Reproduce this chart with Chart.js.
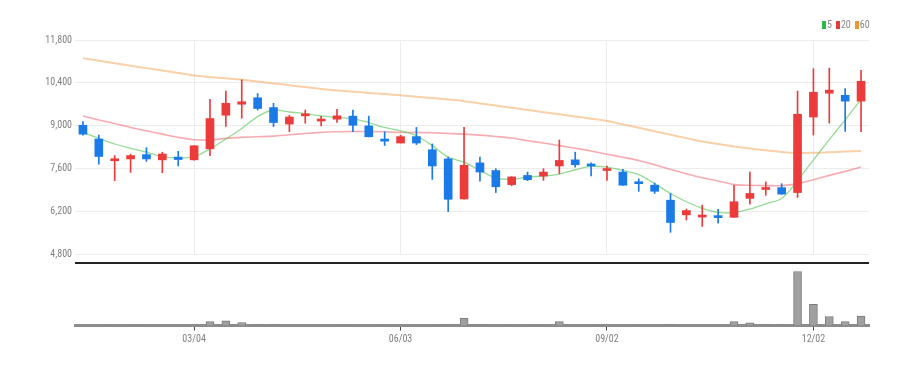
<!DOCTYPE html>
<html lang="ko">
<head>
    <meta charset="UTF-8">
    <title>주간 캔들 차트</title>
    <script src="https://cdn.jsdelivr.net/npm/chart.js"></script>
    <style>
        body {
            margin: 0;
            background: #fff;
            font-family: 'Roboto Condensed', sans-serif;
        }
        #wrap {
            position: relative;
            width: 919px;
            height: 366px;
        }
        #priceChart { position: absolute; left: 0; top: 0; }
        #volChart { position: absolute; left: 0; top: 265px; }
        .divider {
            position: absolute;
            left: 75px;
            top: 262px;
            width: 794px;
            height: 2px;
            background: #222;
        }
        #legend {
            position: absolute;
            left: 822px;
            top: 19px;
            font-size: 10px;
            line-height: 12px;
            color: #888;
            white-space: nowrap;
        }
        #legend .box {
            display: inline-block;
            width: 4px;
            height: 8px;
            margin-right: 1px;
            vertical-align: -1px;
        }
        #legend .item { margin-right: 4px; }
    </style>
</head>
<body>
<div id="wrap">
    <canvas id="priceChart" width="919" height="263"></canvas>
    <div class="divider"></div>
    <canvas id="volChart" width="919" height="101"></canvas>
    <div id="legend">
        <span class="item"><span class="box" style="background:#2db84a"></span>5</span><span class="item"><span class="box" style="background:#e8393c"></span>20</span><span class="item"><span class="box" style="background:#f0982e"></span>60</span>
    </div>
</div>

<script>
    // weekly candles
    const dates = ['01/15', '01/22', '01/29', '02/05', '02/12', '02/19', '02/26', '03/04', '03/11', '03/18',
        '03/25', '04/01', '04/08', '04/15', '04/22', '04/29', '05/06', '05/13', '05/20', '05/27',
        '06/03', '06/10', '06/17', '06/24', '07/01', '07/08', '07/15', '07/22', '07/29', '08/05',
        '08/12', '08/19', '08/26', '09/02', '09/09', '09/16', '09/23', '09/30', '10/07', '10/14',
        '10/21', '10/28', '11/04', '11/11', '11/18', '11/25', '12/02', '12/09', '12/16', '12/23'];
    const tickLabels = ['03/04', '06/03', '09/02', '12/02'];
    const priceTicks = [4800, 6200, 7600, 9000, 10400, 11800];

    const opens = [9010, 8560, 7850, 7910, 8050, 7880, 7970, 7880, 8240, 9340,
        9700, 9910, 9590, 9050, 9320, 9150, 9210, 9310, 8990, 8560,
        8430, 8640, 8210, 7910, 6600, 7780, 7530, 7070, 7370, 7350,
        7680, 7880, 7740, 7530, 7480, 7160, 7050, 6560, 6080, 6010,
        6040, 6000, 6620, 6910, 6970, 6810, 9280, 10060, 9990, 9800];
    const highs = [9130, 8690, 8020, 8065, 8280, 8130, 8160, 8350, 9860, 10130,
        10500, 10050, 9730, 9340, 9510, 9300, 9530, 9510, 9310, 8800,
        8690, 8940, 8400, 7970, 8940, 7970, 7590, 7330, 7480, 7590,
        8530, 8130, 7780, 7675, 7570, 7260, 7120, 6780, 6270, 6400,
        6260, 7050, 7480, 7160, 7100, 10130, 10860, 10880, 10210, 10810];
    const lows = [8690, 7740, 7200, 7470, 7830, 7460, 7680, 7870, 8020, 8970,
        9240, 9510, 8970, 8800, 9080, 8990, 9100, 8800, 8630, 8350,
        8430, 8380, 7240, 6190, 6590, 7180, 6810, 7030, 7200, 7210,
        7430, 7640, 7350, 7210, 7040, 6850, 6780, 5510, 5910, 5700,
        5810, 6000, 6430, 6720, 6750, 6650, 8690, 9080, 8810, 8800];
    const closes = [8720, 7990, 7910, 8020, 7910, 8070, 7890, 8340, 9230, 9730,
        9780, 9560, 9100, 9280, 9360, 9190, 9320, 9010, 8635, 8490,
        8640, 8430, 7680, 6590, 7700, 7480, 7000, 7320, 7230, 7480,
        7860, 7720, 7680, 7590, 7050, 7100, 6850, 5830, 6220, 6070,
        5990, 6510, 6780, 6960, 6760, 9370, 10090, 10160, 9800, 10450];

    const ma5 = [8777, 8583, 8398, 8258, 8130, 7987, 7944, 7987, 8236, 8560,
        8907, 9295, 9510, 9445, 9393, 9315, 9263, 9230, 9100, 8939,
        8829, 8667, 8345, 7967, 7805, 7534, 7286, 7243, 7318, 7351,
        7416, 7556, 7664, 7643, 7534, 7394, 7102, 6778, 6509, 6292,
        6162, 6152, 6270, 6440, 6616, 7200, 7880, 8540, 9190, 9850];
    const ma20 = [9315, 9186, 9068, 8939, 8829, 8722, 8614, 8538, 8528, 8583,
        8614, 8635, 8657, 8700, 8743, 8777, 8797, 8808, 8808, 8797,
        8777, 8777, 8764, 8743, 8722, 8690, 8646, 8592, 8506, 8430,
        8345, 8258, 8171, 8064, 7967, 7858, 7718, 7567, 7426, 7296,
        7189, 7070, 7048, 7037, 7037, 7102, 7232, 7372, 7502, 7643];
    const ma60 = [11207, 11120, 11040, 10960, 10880, 10800, 10720, 10640, 10590, 10545,
        10500, 10440, 10380, 10320, 10260, 10200, 10150, 10110, 10070, 10030,
        9990, 9945, 9900, 9850, 9800, 9726, 9655, 9583, 9512, 9440,
        9369, 9297, 9226, 9154, 9040, 8927, 8814, 8700, 8590, 8480,
        8400, 8320, 8250, 8190, 8140, 8107, 8110, 8130, 8150, 8170];

    const volumes = [5, 5, 5, 5, 5, 5, 5, 5, 80, 95,
        60, 20, 20, 5, 5, 5, 5, 5, 5, 5,
        5, 5, 5, 20, 150, 20, 5, 5, 5, 5,
        80, 5, 5, 5, 5, 5, 5, 20, 5, 5,
        5, 80, 55, 20, 20, 1080, 425, 180, 80, 190];

    const UP = '#eb3b3b';
    const DOWN = '#1a7ae8';
    const candleColors = closes.map((c, i) => c >= opens[i] ? UP : DOWN);

    Chart.defaults.font.family = "'Roboto Condensed', sans-serif";
    Chart.defaults.font.size = 10;
    Chart.defaults.color = '#808080';

    const showTick = i => tickLabels.includes(dates[i]);

    new Chart(document.getElementById('priceChart'), {
        data: {
            labels: dates,
            datasets: [
                {
                    type: 'bar',
                    data: closes.map((c, i) => [opens[i], c]),
                    backgroundColor: candleColors,
                    barThickness: 8,
                    minBarLength: 2,
                    grouped: false,
                    order: 0
                },
                {
                    type: 'bar',
                    data: highs.map((h, i) => [lows[i], h]),
                    backgroundColor: candleColors,
                    barThickness: 1,
                    grouped: false,
                    order: 1
                },
                {
                    type: 'line',
                    data: ma5,
                    borderColor: 'rgba(90, 200, 90, 0.65)',
                    borderWidth: 1.3,
                    pointRadius: 0,
                    tension: 0.3,
                    order: 2
                },
                {
                    type: 'line',
                    data: ma20,
                    borderColor: 'rgba(238, 90, 100, 0.5)',
                    borderWidth: 1.6,
                    pointRadius: 0,
                    tension: 0.3,
                    order: 3
                },
                {
                    type: 'line',
                    data: ma60,
                    borderColor: 'rgba(242, 150, 60, 0.45)',
                    borderWidth: 2,
                    pointRadius: 0,
                    tension: 0.3,
                    order: 4
                }
            ]
        },
        options: {
            responsive: false,
            animation: false,
            layout: { padding: { left: 0, right: 50, top: 40, bottom: 7 } },
            plugins: { legend: { display: false }, tooltip: { enabled: false } },
            scales: {
                x: {
                    type: 'category',
                    offset: true,
                    grid: {
                        offset: false,
                        drawTicks: false,
                        color: c => showTick(c.index) ? '#ececec' : 'rgba(0,0,0,0)'
                    },
                    border: { display: false },
                    ticks: { display: false, autoSkip: false },
                    afterFit: s => { s.height = 0; }
                },
                y: {
                    min: 4800,
                    max: 11800,
                    afterBuildTicks: s => { s.ticks = priceTicks.map(v => ({ value: v })); },
                    afterFit: s => { s.width = 75; },
                    grid: { color: '#ececec', drawTicks: false },
                    border: { display: false },
                    ticks: {
                        padding: 3,
                        callback: v => v.toLocaleString('en-US')
                    }
                }
            }
        }
    });

    new Chart(document.getElementById('volChart'), {
        type: 'bar',
        data: {
            labels: dates,
            datasets: [{
                data: volumes,
                backgroundColor: '#a0a0a0',
                borderColor: '#7a7a7a',
                borderWidth: 1,
                barThickness: 8
            }]
        },
        options: {
            responsive: false,
            animation: false,
            layout: { padding: { left: 0, right: 50, top: 0, bottom: 0 } },
            plugins: { legend: { display: false }, tooltip: { enabled: false } },
            scales: {
                x: {
                    offset: true,
                    grid: {
                        offset: false,
                        drawOnChartArea: false,
                        tickLength: 5,
                        color: c => showTick(c.index) ? '#444' : 'rgba(0,0,0,0)'
                    },
                    border: { display: true, color: '#8c8c8c', width: 3 },
                    ticks: {
                        autoSkip: false,
                        maxRotation: 0,
                        padding: 3,
                        callback: (v, i) => showTick(i) ? dates[i] : ''
                    },
                    afterFit: s => { s.height = 40.5; }
                },
                y: {
                    min: 0,
                    max: 1210,
                    afterFit: s => { s.width = 75; },
                    grid: { display: false },
                    border: { display: false },
                    ticks: { display: false }
                }
            }
        }
    });
</script>
</body>
</html>
